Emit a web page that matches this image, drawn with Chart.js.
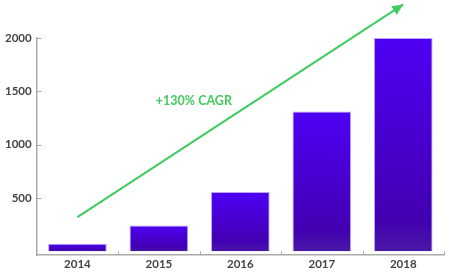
<!DOCTYPE html>
<html>
<head>
<meta charset="utf-8">
<script src="https://cdn.jsdelivr.net/npm/chart.js@4/dist/chart.umd.min.js"></script>
<style>
  html, body { margin: 0; padding: 0; background: #fff; }
  #wrap { width: 450px; height: 275px; }
</style>
</head>
<body>
<div id="wrap"><canvas id="chart"></canvas></div>
<script>
// data
var years = ['2014', '2015', '2016', '2017', '2018'];
var values = [70, 240, 555, 1310, 2000];
var yTicks = [500, 1000, 1500, 2000];
// trend arrow: start at 2014, tip at 2018 (goes above the top of the axis)
var trend = [320, null, null, null, 2315];
var trendLabel = '+130% CAGR';
var trendLabelAt = { x: 1.43, y: 1410 };

var green = '#3fcb5e';

function barFill(ctx) {
    var chart = ctx.chart;
    if (!chart.chartArea || ctx.type !== 'data') return '#4a00e8';
    var ys = chart.scales.y;
    var top = ys.getPixelForValue(ctx.parsed.y);
    var bot = ys.getPixelForValue(0);
    var g = chart.ctx.createLinearGradient(0, top, 0, bot);
    g.addColorStop(0, '#4e00f4');
    g.addColorStop(0.85, '#4200b0');
    g.addColorStop(1, '#4818a6');
    return g;
}

// small inward ticks + arrow head + label
var extras = {
    id: 'extras',
    afterDatasetsDraw: function(chart) {
        var c = chart.ctx;
        var xs = chart.scales.x, ys = chart.scales.y;
        var area = chart.chartArea;
        c.save();
        c.strokeStyle = '#aaaaaa';
        c.lineWidth = 1;
        // x ticks between categories
        for (var i = 0; i < years.length; i++) {
            var px = Math.round(xs.getPixelForValue(i + 0.5)) + 0.5;
            c.beginPath();
            c.moveTo(px, area.bottom);
            c.lineTo(px, area.bottom - 4);
            c.stroke();
        }
        // y ticks
        yTicks.forEach(function(v) {
            var py = Math.round(ys.getPixelForValue(v)) + 0.5;
            c.beginPath();
            c.moveTo(area.left, py);
            c.lineTo(area.left + 5, py);
            c.stroke();
        });
        // arrow head
        var pts = chart.getDatasetMeta(1).data.filter(function(p, k) { return trend[k] !== null; });
        var a = pts[0], b = pts[pts.length - 1];
        var ang = Math.atan2(b.y - a.y, b.x - a.x);
        var len = 11, w = 5;
        c.fillStyle = green;
        c.beginPath();
        c.moveTo(b.x, b.y);
        c.lineTo(b.x - len * Math.cos(ang) + w * Math.sin(ang), b.y - len * Math.sin(ang) - w * Math.cos(ang));
        c.lineTo(b.x - len * Math.cos(ang) - w * Math.sin(ang), b.y - len * Math.sin(ang) + w * Math.cos(ang));
        c.closePath();
        c.fill();
        // label
        c.fillStyle = green;
        c.font = 'bold 12.5px Lato';
        c.textAlign = 'center';
        c.textBaseline = 'middle';
        c.fillText(trendLabel, xs.getPixelForValue(trendLabelAt.x), ys.getPixelForValue(trendLabelAt.y));
        c.restore();
    }
};

var ctx0 = document.getElementById('chart').getContext('2d');
var chart = new Chart(ctx0, {
    type: 'bar',
    data: {
        labels: years,
        datasets: [{
            data: values,
            backgroundColor: barFill,
            borderColor: '#b9a6ff',
            borderWidth: 1,
            barPercentage: 0.72,
            categoryPercentage: 1
        }, {
            type: 'line',
            data: trend,
            spanGaps: true,
            borderColor: green,
            borderWidth: 2,
            pointRadius: 0,
            clip: false
        }]
    },
    options: {
        animation: false,
        responsive: true,
        maintainAspectRatio: false,
        layout: { padding: { top: 38, right: 6, left: 0, bottom: 2 } },
        plugins: {
            legend: { display: false },
            tooltip: { enabled: false }
        },
        scales: {
            x: {
                grid: { display: false, drawTicks: false },
                border: { color: '#aaaaaa', width: 1.5 },
                ticks: {
                    color: '#444',
                    padding: 2,
                    font: { size: 11.5, family: 'Lato', weight: 'bold' }
                }
            },
            y: {
                min: -38,
                max: 2000,
                afterBuildTicks: function(scale) {
                    scale.ticks = yTicks.map(function(v) { return { value: v }; });
                },
                grid: { display: false, drawTicks: false },
                border: { color: '#aaaaaa', width: 1.5 },
                ticks: {
                    color: '#444',
                    padding: 5,
                    font: { size: 11.5, family: 'Lato', weight: 'bold' },
                    callback: function(v) { return String(v); }
                }
            }
        }
    },
    plugins: [extras]
});
</script>
</body>
</html>
